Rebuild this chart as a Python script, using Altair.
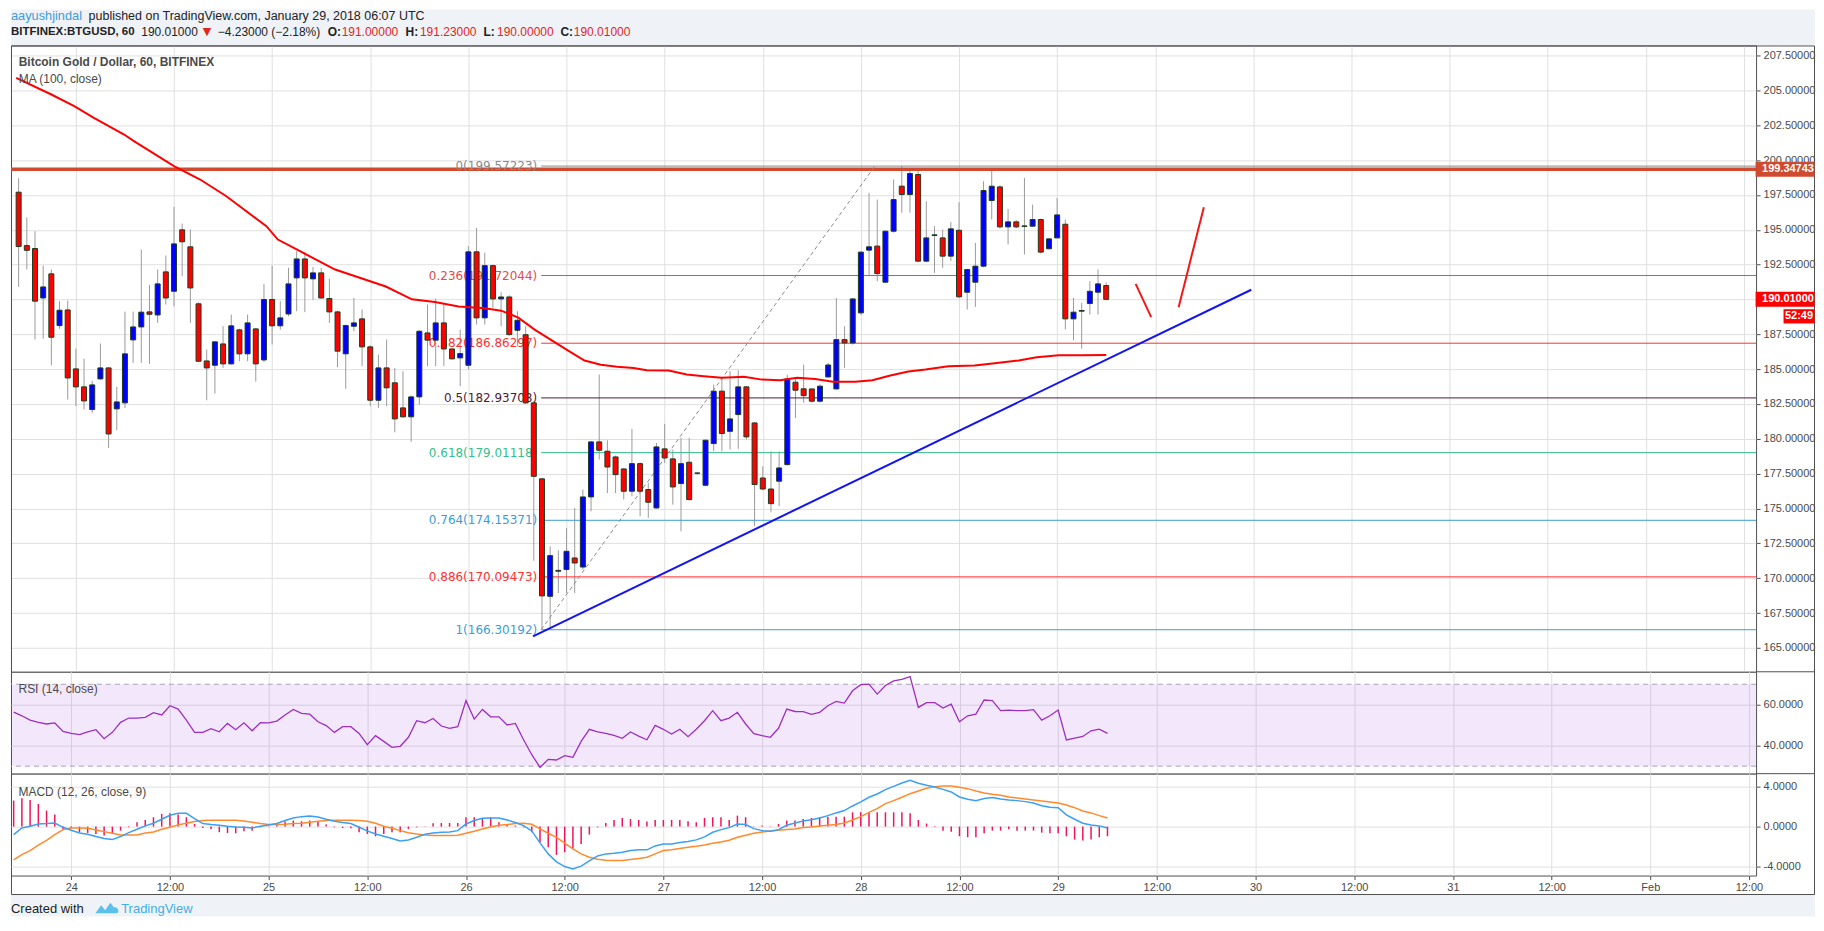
import json
import altair as alt
import pandas as pd

# ------------------------------------------------------------------ data
# hourly candles, hours counted from 24 Jan 2018 00:00 UTC
hours = list(range(-7, 127))

opens = [197.7, 193.87, 193.66, 190.11, 191.84, 188.13, 189.25, 185.02, 183.73, 182.10,
         184.30, 185.09, 182.15, 182.58, 187.10, 188.03, 189.11, 188.89, 191.98, 190.59,
         195.00, 193.78, 189.69, 185.59, 185.28, 186.81, 185.38, 187.82, 186.10, 187.89,
         185.66, 190.00, 188.11, 188.96, 191.55, 192.91, 191.48, 191.91, 190.07, 189.11,
         186.10, 188.08, 188.61, 186.60, 182.77, 185.09, 184.02, 182.22, 181.58, 183.01,
         187.60, 187.08, 188.32, 186.45, 185.81, 185.28, 193.42, 188.68, 192.43, 190.04,
         190.18, 187.79, 187.47, 182.58, 177.13, 168.70, 170.50, 170.62, 171.45, 170.80,
         175.83, 179.78, 179.11, 178.70, 177.84, 176.24, 178.22, 176.36, 175.04, 179.28,
         178.56, 176.79, 178.32, 177.55, 176.67, 179.66, 183.42, 180.54, 181.74, 183.73,
         181.14, 177.19, 176.40, 176.96, 178.15, 184.06, 183.59, 183.58, 182.70, 184.44,
         183.58, 187.12, 186.88, 189.04, 193.54, 193.83, 191.24, 194.90, 198.13, 197.53,
         198.97, 192.75, 194.59, 194.42, 193.11, 194.97, 190.52, 191.24, 192.39, 197.10,
         198.08, 195.21, 195.57, 195.24, 195.26, 195.74, 193.64, 194.42, 195.40, 188.61,
         189.16, 189.71, 190.52, 191.00]
highs = [198.7, 195.9, 194.9, 192.43, 192.15, 189.88, 189.92, 186.48, 185.76, 184.16,
         186.84, 185.14, 183.73, 189.13, 189.13, 193.59, 191.05, 192.15, 193.16, 196.65,
         195.45, 195.02, 189.8, 186.41, 187.0, 188.08, 188.92, 187.9, 188.92, 187.95,
         191.12, 192.43, 189.88, 192.27, 193.47, 193.40, 192.34, 192.27, 191.48, 189.2,
         188.2, 190.11, 189.28, 186.7, 186.05, 187.13, 185.09, 184.85, 183.1, 187.8,
         189.64, 190.07, 189.76, 186.5, 187.84, 193.83, 195.14, 193.35, 192.5, 190.52,
         190.3, 189.16, 188.08, 182.7, 177.2, 172.29, 172.0, 173.6, 175.04, 176.36,
         179.85, 184.61, 179.9, 178.8, 177.9, 180.71, 178.3, 176.84, 179.71, 181.07,
         179.23, 180.07, 180.07, 177.6, 179.95, 183.90, 184.37, 184.86, 184.92, 183.8,
         181.2, 178.03, 179.11, 179.11, 184.61, 184.30, 185.33, 183.6, 183.9, 185.45,
         190.11, 188.08, 190.1, 193.45, 197.65, 197.17, 194.95, 198.61, 199.57, 199.37,
         199.33, 197.05, 195.26, 195.02, 195.55, 196.98, 192.2, 194.06, 198.49, 199.37,
         198.2, 196.50, 195.7, 198.73, 196.81, 195.8, 194.4, 197.29, 195.74, 190.11,
         189.76, 191.31, 192.15, 191.23]
lows = [190.9, 192.15, 187.13, 187.18, 185.28, 187.9, 182.82, 182.34, 182.10, 181.86,
        184.25, 179.35, 180.62, 182.22, 185.45, 185.45, 185.38, 188.32, 189.64, 189.52,
        191.67, 188.32, 185.5, 182.77, 183.25, 185.09, 185.33, 185.57, 185.57, 184.11,
        185.50, 186.77, 187.84, 188.80, 189.16, 189.09, 189.95, 190.05, 188.32, 185.14,
        183.59, 187.72, 185.21, 182.34, 182.22, 182.34, 180.47, 181.5, 179.78, 182.44,
        185.21, 185.21, 185.21, 185.7, 183.78, 184.97, 188.20, 188.20, 189.40, 188.08,
        187.4, 186.65, 182.5, 171.25, 166.30, 166.5, 168.94, 168.94, 168.94, 170.62,
        174.80, 178.51, 176.11, 176.11, 175.64, 175.88, 174.44, 174.32, 175.0, 178.27,
        175.28, 173.37, 175.6, 177.4, 176.6, 179.11, 179.11, 179.23, 179.28, 179.95,
        173.73, 176.3, 174.73, 175.16, 178.1, 181.50, 182.58, 182.6, 182.6, 184.4,
        183.54, 185.09, 186.76, 188.9, 191.67, 191.31, 191.2, 194.8, 196.22, 196.22,
        192.7, 192.7, 191.91, 192.27, 192.75, 190.1, 189.28, 189.47, 192.3, 195.74,
        195.1, 193.95, 195.1, 193.23, 195.2, 193.30, 193.6, 194.4, 187.84, 187.07,
        186.47, 188.92, 188.92, 190.00]
closes = [193.8, 193.53, 189.88, 190.90, 187.29, 189.23, 184.37, 183.73, 182.72, 183.87,
          185.09, 180.35, 182.65, 186.10, 188.03, 189.09, 188.94, 191.12, 190.11, 193.99,
          194.14, 190.83, 185.57, 185.09, 186.96, 185.38, 188.11, 186.10, 188.32, 185.38,
          190.00, 188.11, 188.68, 191.12, 192.91, 191.55, 191.91, 190.11, 189.11, 186.29,
          188.13, 188.32, 186.60, 182.77, 185.09, 183.66, 181.43, 181.58, 183.01, 187.72,
          187.08, 188.32, 186.45, 185.74, 186.12, 193.42, 188.68, 192.43, 190.04, 190.18,
          187.48, 188.51, 182.58, 177.31, 168.73, 171.62, 170.56, 171.93, 171.09, 175.83,
          179.78, 179.18, 177.98, 177.43, 176.24, 178.22, 176.24, 175.45, 179.42, 178.63,
          176.55, 178.22, 175.64, 177.53, 179.90, 183.42, 180.38, 181.43, 183.73, 180.14,
          176.72, 176.40, 175.35, 177.91, 184.30, 183.49, 183.10, 182.70, 183.78, 185.30,
          187.12, 186.88, 190.04, 193.40, 193.78, 191.86, 194.90, 197.17, 197.53, 199.04,
          192.75, 194.42, 194.64, 193.11, 195.07, 190.19, 192.15, 192.39, 197.82, 198.13,
          195.21, 195.57, 195.21, 195.28, 195.74, 193.40, 194.35, 196.07, 188.61, 189.09,
          189.21, 190.59, 191.12, 190.01]

rsi_vals = [56.4, 54.6, 52.5, 51.4, 50.6, 51.1, 47.0, 46.0, 45.4, 46.8,
            47.8, 43.4, 46.5, 51.4, 53.5, 53.5, 53.8, 56.1, 55.0, 59.5,
            57.9, 52.5, 46.5, 46.5, 48.3, 46.8, 50.9, 47.8, 51.2, 47.3,
            51.2, 51.1, 52.0, 55.0, 57.7, 55.8, 55.4, 51.7, 49.8, 46.5,
            49.3, 49.3, 46.0, 40.5, 44.9, 42.1, 39.2, 39.7, 44.1, 52.2,
            51.2, 53.3, 49.6, 48.5, 49.3, 62.0, 53.0, 57.7, 54.1, 54.1,
            50.1, 50.9, 42.9, 35.6, 29.4, 33.3, 33.0, 35.1, 34.3, 42.1,
            48.0, 46.8, 46.0, 45.0, 43.6, 46.7, 44.7, 42.9, 49.9, 48.0,
            45.7, 48.0, 44.4, 48.0, 52.2, 57.1, 52.2, 53.5, 56.3, 50.6,
            45.9, 44.9, 44.1, 48.5, 57.9, 56.7, 56.6, 55.3, 56.3, 59.5,
            61.6, 60.8, 66.8, 69.8, 70.1, 65.2, 69.4, 71.6, 72.4, 73.7,
            58.7, 61.0, 61.0, 58.4, 60.3, 51.7, 54.6, 55.4, 62.3, 62.0,
            57.1, 57.4, 57.1, 57.1, 57.6, 52.5, 54.6, 57.4, 42.8, 43.7,
            44.5, 47.3, 48.1, 46.0]

macd_vals = [-0.79, -0.13, 0.03, 0.26, 0.30, 0.36, -0.07, -0.36, -0.63, -0.76,
             -0.99, -1.19, -1.29, -0.99, -0.60, -0.26, 0.07, 0.33, 0.73, 1.12,
             1.32, 1.32, 0.79, 0.30, 0.20, 0.13, 0.03, -0.03, -0.07, -0.13,
             0.03, 0.17, 0.30, 0.60, 0.86, 0.99, 1.06, 0.96, 0.73, 0.53,
             0.40, 0.30, -0.07, -0.43, -0.73, -0.96, -1.19, -1.42, -1.32, -1.06,
             -0.76, -0.63, -0.56, -0.53, -0.40, 0.26, 0.60, 0.83, 0.86, 0.86,
             0.66, 0.40, 0.10, -0.43, -1.62, -2.71, -3.50, -3.97, -4.20, -3.93,
             -3.40, -2.91, -2.71, -2.64, -2.55, -2.38, -2.31, -2.31, -1.92, -1.72,
             -1.72, -1.59, -1.49, -1.32, -1.02, -0.56, -0.30, -0.10, 0.26, 0.20,
             -0.20, -0.40, -0.46, -0.30, 0.13, 0.36, 0.56, 0.69, 0.86, 1.09,
             1.36, 1.59, 2.05, 2.45, 2.91, 3.24, 3.67, 4.00, 4.33, 4.60,
             4.30, 4.10, 3.94, 3.70, 3.44, 2.94, 2.71, 2.58, 2.78, 2.88,
             2.74, 2.65, 2.58, 2.48, 2.35, 2.08, 1.92, 1.88, 1.16, 0.73,
             0.33, 0.17, 0.07, -0.13]
signal_vals = [-3.31, -2.78, -2.38, -1.85, -1.36, -0.79, -0.30, -0.13, -0.13, -0.17,
               -0.33, -0.50, -0.66, -0.83, -0.83, -0.83, -0.63, -0.53, -0.26, -0.07,
               0.17, 0.33, 0.50, 0.60, 0.63, 0.63, 0.63, 0.63, 0.56, 0.43,
               0.30, 0.20, 0.20, 0.23, 0.30, 0.33, 0.43, 0.53, 0.60, 0.63,
               0.63, 0.63, 0.60, 0.53, 0.33, 0.03, -0.17, -0.40, -0.60, -0.73,
               -0.83, -0.89, -0.89, -0.89, -0.86, -0.66, -0.46, -0.23, -0.03, 0.13,
               0.20, 0.30, 0.33, 0.23, -0.23, -0.66, -1.06, -1.65, -2.21, -2.71,
               -3.04, -3.24, -3.34, -3.37, -3.37, -3.27, -3.17, -3.04, -2.71, -2.38,
               -2.31, -2.18, -2.05, -1.95, -1.82, -1.65, -1.52, -1.36, -1.06, -0.86,
               -0.66, -0.53, -0.43, -0.36, -0.30, -0.23, -0.10, -0.03, 0.07, 0.13,
               0.20, 0.36, 0.66, 0.99, 1.42, 1.79, 2.28, 2.58, 2.91, 3.27,
               3.54, 3.80, 3.97, 4.03, 4.03, 3.90, 3.77, 3.54, 3.34, 3.21,
               3.11, 2.94, 2.84, 2.74, 2.65, 2.55, 2.45, 2.35, 2.15, 1.88,
               1.55, 1.36, 1.09, 0.86]
hist_vals = [2.58, 2.81, 2.64, 2.25, 1.59, 1.19, -0.23, -0.13, -0.56, -0.63,
             -0.73, -0.89, -0.73, -0.40, -0.07, 0.43, 0.66, 0.93, 1.26, 1.32,
             1.19, 0.93, 0.26, -0.13, -0.23, -0.56, -0.63, -0.66, -0.46, -0.40,
             -0.07, 0.03, 0.26, 0.50, 0.60, 0.53, 0.60, 0.53, 0.20, -0.07,
             -0.13, -0.17, -0.56, -0.73, -0.96, -0.73, -0.56, -0.56, -0.23, -0.07,
             0.03, 0.33, 0.36, 0.36, 0.36, 0.93, 0.93, 0.86, 0.93, 0.43,
             0.26, 0.10, -0.07, -0.56, -1.55, -2.05, -2.81, -2.55, -2.21, -1.72,
             -0.79, -0.07, 0.36, 0.66, 0.86, 0.76, 0.66, 0.50, 0.66, 0.66,
             0.66, 0.66, 0.53, 0.43, 0.86, 0.93, 0.93, 0.66, 1.09, 0.93,
             0.03, 0.10, 0.03, 0.26, 0.60, 0.60, 0.76, 0.86, 0.93, 0.99,
             0.99, 0.99, 1.42, 1.42, 1.42, 1.42, 1.42, 1.42, 1.42, 1.32,
             0.66, 0.30, -0.03, -0.40, -0.50, -0.96, -1.06, -1.06, -0.66, -0.40,
             -0.40, -0.26, -0.40, -0.40, -0.40, -0.60, -0.66, -0.66, -0.96, -1.29,
             -1.39, -1.29, -1.06, -0.96]

for arr in (opens, highs, lows, closes, rsi_vals, macd_vals, signal_vals, hist_vals):
    assert len(arr) == len(hours), len(arr)

# MA(100)
ma_t = [-7.3, -3.0, -0.2, 2.2, 5.9, 7.1, 12.0, 15.2, 18.4, 23.3, 24.7, 27.0, 31.7, 37.9,
        41.1, 43.9, 46.8, 50.0, 52.0, 54.1, 56.1, 58.1, 60.1, 62.2, 64.2, 66.2, 68.2,
        69.8, 72.5, 74.7, 76.8, 79.0, 81.7, 83.9, 86.1, 88.2, 90.4, 92.6, 95.3, 97.4,
        99.6, 101.8, 103.9, 106.7, 109.9, 112.1, 115.3, 117.5, 120.2, 122.9, 126.0]
ma_v = [205.9, 204.71, 203.87, 203.04, 201.84, 201.36, 199.57, 198.61, 197.41, 195.26,
        194.30, 193.59, 192.15, 190.93, 190.01, 189.82, 189.49, 189.37, 189.20, 188.70,
        187.84, 187.10, 186.36, 185.62, 185.32, 185.17, 185.09, 184.92, 184.90, 184.61,
        184.49, 184.38, 184.45, 184.25, 184.20, 184.38, 184.30, 184.09, 184.09, 184.20,
        184.54, 184.83, 184.97, 185.21, 185.26, 185.40, 185.62, 185.85, 185.99, 185.99,
        186.02]

# Fibonacci retracement
fib_ratio = ["0", "0.236", "0.382", "0.5", "0.618", "0.764", "0.886", "1"]
fib_price = [199.57223, 191.72044, 186.86297, 182.93708, 179.01118, 174.15371, 170.09473, 166.30192]
fib_t0 = 56.9
fib_anchor_t = [56.9, 97.7]
fib_anchor_p = [166.30192, 199.57223]

resistance = 199.34743
last_close = 190.01

trend_t = [55.9, 143.74]
trend_p = [165.83, 190.70]

arrow_seg = ["a", "a", "b", "b"]
arrow_t = [129.6, 131.5, 134.86, 137.94]
arrow_p = [191.12, 188.73, 189.45, 196.62]

tick_hours = [0, 12, 24, 36, 48, 60, 72, 84, 96, 108, 120, 132, 144, 156, 168, 180, 192, 204]
tick_labels = ["24", "12:00", "25", "12:00", "26", "12:00", "27", "12:00", "28", "12:00",
               "29", "12:00", "30", "12:00", "31", "12:00", "Feb", "12:00"]
price_ticks = [165, 167.5, 170, 172.5, 175, 177.5, 180, 182.5, 185, 187.5, 190, 192.5,
               195, 197.5, 200, 202.5, 205, 207.5]
rsi_ticks = [40, 60]
rsi_bands = [30, 70]
macd_ticks = [-4, 0, 4]

# ------------------------------------------------------------------ styles / geometry
W, H1, H2, H3 = 1747, 627, 102, 102
RIGHT = 1806
XDOM = [-7.324, 204.86]
PDOM = [163.284, 208.23]
RDOM = [26.34, 76.10]
MDOM = [-4.861, 5.258]
SANS = "Liberation Sans"
BG = "#eff2f7"
FRAME = "#4f4f4f"
fib_colors = ["#8a8a8a", "#e24c4c", "#ff3030", "#4e1a36", "#34be8a", "#3b9dd6", "#ff3030", "#3b9dd6"]
BOX = "M-1,-0.254H1V0.254H-1Z"
BOX_SMALL = "M-1,-0.46H1V0.46H-1Z"
LOGO = "M-1,0.45L-0.5,-0.25L-0.15,0.2L0.3,-0.45L0.62,-0.05C0.85,-0.1,1,0.1,1,0.28C1,0.4,0.9,0.45,0.8,0.45Z"

one = pd.DataFrame({"k": [0]})


def txt(s, x, y, size=12, color="#222222", weight="normal", font=SANS, align="left"):
    return alt.Chart(one).mark_text(
        text=s, fontSize=size, color=color, fontWeight=weight, font=font,
        align=align, baseline="middle"
    ).encode(x=alt.value(x), y=alt.value(y))


xs = alt.Scale(domain=XDOM, nice=False, zero=False)
grid_x = alt.Axis(values=tick_hours, labels=False, ticks=False, domain=False, grid=True, title=None)
bottom_x = alt.Axis(values=tick_hours, grid=True, ticks=True, tickSize=4, labelPadding=2,
                    domain=False, labelOverlap=False, labelFlush=False, title=None,
                    labelExpr=json.dumps(tick_labels) + "[round(datum.value / 12)]")

ps = alt.Scale(domain=PDOM, nice=False, zero=False)
p_axis = alt.Axis(orient="right", values=price_ticks, format=".5f", title=None, grid=True,
                  tickSize=4, labelPadding=3, labelOverlap=False, domain=False)


def X(field="t", axis=grid_x):
    return alt.X(f"{field}:Q", scale=xs, axis=axis)


def PY(field):
    return alt.Y(f"{field}:Q", scale=ps, axis=p_axis)


# ------------------------------------------------------------------ price pane
candles = pd.DataFrame(dict(t=hours, open=opens, high=highs, low=lows, close=closes))
ma_df = pd.DataFrame(dict(t=ma_t, v=ma_v))
fib_df = pd.DataFrame(dict(ratio=fib_ratio, price=fib_price,
                           label=[f"{r}({p:.5f})" for r, p in zip(fib_ratio, fib_price)],
                           t0=[fib_t0] * len(fib_ratio)))
fib_color = alt.Color("ratio:N", scale=alt.Scale(domain=fib_ratio, range=fib_colors), legend=None)

header_band = alt.Chart(one).mark_rect(color=BG).encode(
    x=alt.value(0), x2=alt.value(RIGHT), y=alt.value(-36), y2=alt.value(-0.5))
footer_band = alt.Chart(one).mark_rect(color=BG).encode(
    x=alt.value(0), x2=alt.value(RIGHT), y=alt.value(850.5), y2=alt.value(872))
frame = alt.Chart(one).mark_rect(fillOpacity=0, stroke=FRAME, strokeWidth=1).encode(
    x=alt.value(0.5), x2=alt.value(RIGHT - 0.5), y=alt.value(0.5), y2=alt.value(850))
sep1 = alt.Chart(one).mark_rule(color=FRAME, strokeWidth=1).encode(
    x=alt.value(W), x2=alt.value(RIGHT), y=alt.value(H1))
sep2 = alt.Chart(one).mark_rule(color=FRAME, strokeWidth=1).encode(
    x=alt.value(W), x2=alt.value(RIGHT), y=alt.value(H1 + H2))

res_line = alt.Chart(pd.DataFrame({"p": [resistance]})).mark_rule(
    color="#cf4a2e", strokeWidth=3.5).encode(y=PY("p"))
fib_lines = alt.Chart(fib_df).mark_rule(strokeWidth=1).encode(
    x=X("t0"), x2=alt.value(W), y=PY("price"), color=fib_color)
fib_text = alt.Chart(fib_df).mark_text(align="right", dx=-4, baseline="middle",
                                       font="DejaVu Sans", fontSize=12).encode(
    x=X("t0"), y=PY("price"), text="label:N", color=fib_color)
fib_diag = alt.Chart(pd.DataFrame(dict(t=fib_anchor_t, p=fib_anchor_p))).mark_line(
    color="#8c8c8c", strokeDash=[4, 3], strokeWidth=1).encode(x=X(), y=PY("p"))

wicks = alt.Chart(candles).mark_rule(color="#9b9b9b", strokeWidth=1).encode(
    x=X(), y=PY("low"), y2="high")
bodies = alt.Chart(candles).mark_bar(size=5, stroke="#1e3b1e", strokeWidth=1).encode(
    x=X(), y=PY("open"), y2="close",
    fill=alt.condition("datum.close >= datum.open", alt.value("#0000ff"), alt.value("#ff0000")))
ma_line = alt.Chart(ma_df).mark_line(color="#ff0000", strokeWidth=2).encode(x=X(), y=PY("v"))
trend = alt.Chart(pd.DataFrame(dict(t=trend_t, p=trend_p))).mark_line(
    color="#1414f0", strokeWidth=2).encode(x=X(), y=PY("p"))
arrows = alt.Chart(pd.DataFrame(dict(seg=arrow_seg, t=arrow_t, p=arrow_p))).mark_line(
    color="#f01818", strokeWidth=2).encode(x=X(), y=PY("p"), detail="seg:N")

res_df = pd.DataFrame({"p": [resistance]})
last_df = pd.DataFrame({"p": [last_close]})
box1 = alt.Chart(res_df).mark_point(shape=BOX, size=59 ** 2, filled=True, color="#cf4a2e",
                                    opacity=1, strokeWidth=0).encode(x=alt.value(1776), y=PY("p"))
box1t = alt.Chart(res_df).mark_text(align="left", baseline="middle", font=SANS, fontSize=11,
                                    fontWeight="bold", color="white").encode(
    x=alt.value(1753), y=PY("p"), text=alt.Text("p:Q", format=".5f"))
box2 = alt.Chart(last_df).mark_point(shape=BOX, size=59 ** 2, filled=True, color="#ff0000",
                                     opacity=1, strokeWidth=0).encode(x=alt.value(1776), y=PY("p"))
box2t = alt.Chart(last_df).mark_text(align="left", baseline="middle", font=SANS, fontSize=11,
                                     fontWeight="bold", color="white").encode(
    x=alt.value(1753), y=PY("p"), text=alt.Text("p:Q", format=".5f"))
box3 = alt.Chart(last_df).mark_point(shape=BOX_SMALL, size=31 ** 2, filled=True, color="#ff0000",
                                     opacity=1, strokeWidth=0, yOffset=17).encode(
    x=alt.value(1790), y=PY("p"))
box3t = alt.Chart(last_df).mark_text(align="center", baseline="middle", font=SANS, fontSize=11,
                                     fontWeight="bold", color="white", yOffset=17, text="52:49").encode(
    x=alt.value(1790), y=PY("p"))

RED = "#e0261c"
header = [
    txt("aayushjindal", 0, -29.6, size=12.8, color="#3d9ed9"),
    txt("published on TradingView.com, January 29, 2018 06:07 UTC", 77.7, -29.6, size=12.5),
    txt("BITFINEX:BTGUSD, 60", 0, -13.5, size=11.5, weight="bold"),
    txt("190.01000", 130.4, -13.5),
    txt("\u25bc", 192, -13.5, size=11, color=RED, font="DejaVu Sans"),
    txt("\u22124.23000 (\u22122.18%)", 207, -13.5),
    txt("O:", 317, -13.5, weight="bold"),
    txt("191.00000", 331, -13.5, color=RED),
    txt("H:", 395, -13.5, weight="bold"),
    txt("191.23000", 409.4, -13.5, color=RED),
    txt("L:", 473, -13.5, weight="bold"),
    txt("190.00000", 486.6, -13.5, color=RED),
    txt("C:", 550, -13.5, weight="bold"),
    txt("190.01000", 563.4, -13.5, color=RED),
    txt("Bitcoin Gold / Dollar, 60, BITFINEX", 7.7, 16.7, weight="bold", color="#4a4a4a"),
    txt("MA (100, close)", 7.7, 33.7, color="#4a4a4a"),
    txt("Created with", 0, 864.5, size=13, color="#222222"),
    txt("TradingView", 110.3, 864.5, size=13, color="#45aee3"),
]
logo = alt.Chart(one).mark_point(shape=LOGO, size=23 ** 2, filled=True, color="#5bc0ea",
                                 opacity=1, strokeWidth=0).encode(x=alt.value(96), y=alt.value(863.5))

price = alt.layer(
    header_band, footer_band, frame, sep1, sep2,
    wicks, res_line, fib_lines, fib_text, fib_diag, bodies, ma_line, trend, arrows,
    box1, box1t, box2, box2t, box3, box3t, logo, *header
).properties(width=W, height=H1)

# ------------------------------------------------------------------ RSI pane
rs = alt.Scale(domain=RDOM, nice=False, zero=False)
r_axis = alt.Axis(orient="right", values=rsi_ticks, format=".4f", title=None, grid=True,
                  tickSize=4, labelPadding=3, labelOverlap=False, domain=False)
rsi_df = pd.DataFrame(dict(t=hours, rsi=rsi_vals))
band = alt.Chart(pd.DataFrame({"lo": [rsi_bands[0]], "hi": [rsi_bands[1]]})).mark_rect(
    color="#a040e0", opacity=0.12).encode(
    x=alt.value(0), x2=alt.value(W), y=alt.Y("lo:Q", scale=rs, axis=r_axis), y2="hi")
band_lines = alt.Chart(pd.DataFrame({"lvl": rsi_bands})).mark_rule(
    color="#aaa3b5", strokeDash=[5, 4], strokeWidth=1).encode(y=alt.Y("lvl:Q", scale=rs, axis=r_axis))
rsi_line = alt.Chart(rsi_df).mark_line(color="#9d2fc0", strokeWidth=1.3).encode(
    x=X(), y=alt.Y("rsi:Q", scale=rs, axis=r_axis))
rsi_p = alt.layer(band, band_lines, rsi_line,
                  txt("RSI (14, close)", 7.5, 17, color="#4a4a4a")).properties(width=W, height=H2)

# ------------------------------------------------------------------ MACD pane
ms = alt.Scale(domain=MDOM, nice=False, zero=False)
m_axis = alt.Axis(orient="right", values=macd_ticks, title=None, grid=True, tickSize=4,
                  labelPadding=3, labelOverlap=False, domain=False,
                  labelExpr="replace(format(datum.value, '.4f'), '\u2212', '-')")
macd_df = pd.DataFrame(dict(t=hours, macd=macd_vals, signal=signal_vals, hist=hist_vals))
hist = alt.Chart(macd_df).mark_rule(color="#f0145a", strokeWidth=1.5).encode(
    x=X(axis=bottom_x), y=alt.Y("hist:Q", scale=ms, axis=m_axis), y2=alt.Y2Datum(0))
sig_line = alt.Chart(macd_df).mark_line(color="#ff8a2e", strokeWidth=1.5).encode(
    x=X(axis=bottom_x), y=alt.Y("signal:Q", scale=ms, axis=m_axis))
macd_line = alt.Chart(macd_df).mark_line(color="#3a9ff5", strokeWidth=1.5).encode(
    x=X(axis=bottom_x), y=alt.Y("macd:Q", scale=ms, axis=m_axis))
macd_p = alt.layer(hist, sig_line, macd_line,
                   txt("MACD (12, 26, close, 9)", 7.5, 18, color="#4a4a4a")).properties(width=W, height=H3)

chart = alt.vconcat(price, rsi_p, macd_p, spacing=0, bounds="flush").properties(
    padding=0, background="white"
).configure_view(
    stroke=FRAME, strokeWidth=1, fill="white"
).configure_axis(
    labelFont=SANS, labelFontSize=11, labelColor="#4a4a4a",
    gridColor="#e0e0e0", gridWidth=1, tickColor=FRAME
)

chart.save("out.html", embed_options={"renderer": "svg", "actions": False})
